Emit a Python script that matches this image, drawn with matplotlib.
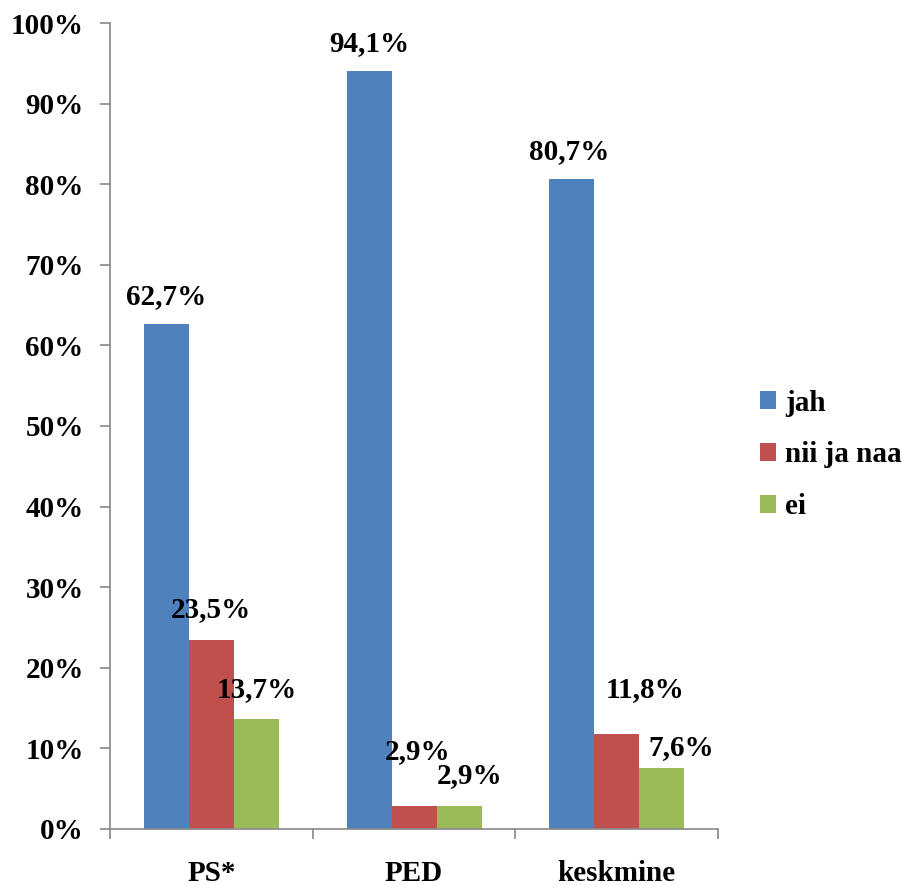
import numpy as np
import matplotlib
matplotlib.use("Agg")
import matplotlib.pyplot as plt

categories = ["PS*", "PED", "keskmine"]
series = ["jah", "nii ja naa", "ei"]
jah = [62.7, 94.1, 80.7]
nii_ja_naa = [23.5, 2.9, 11.8]
ei = [13.7, 2.9, 7.6]
labels = [["62,7%", "94,1%", "80,7%"],
          ["23,5%", "2,9%", "11,8%"],
          ["13,7%", "2,9%", "7,6%"]]

colors = ["#4F81BD", "#C0504D", "#9BBB59"]
# label nudges in pixels (dx, dy above bar top), per series and category
nudges = [[(0, 27), (0, 27), (-2, 27)],
          [(0, 30), (4, 54), (28, 44)],
          [(0, 29), (11, 30), (20, 20)]]

plt.rcParams["font.family"] = ["Liberation Serif", "DejaVu Serif"]
plt.rcParams["font.weight"] = "bold"

fig = plt.figure(figsize=(9.02, 8.85), dpi=100)
ax = fig.add_axes([0.122, 0.0633, 0.674, 0.9107])

x = np.arange(len(categories))
w = 0.222
for i, vals in enumerate([jah, nii_ja_naa, ei]):
    pos = x + (i - 1) * w
    ax.bar(pos, vals, width=w, color=colors[i], label=series[i])
    for j, v in enumerate(vals):
        dx, dy = nudges[i][j]
        ax.annotate(labels[i][j], (pos[j], v), xytext=(dx, dy),
                    textcoords="offset pixels", ha="center", va="center",
                    fontsize=21, fontweight="bold")

ax.set_xlim(-0.5, 2.5)
ax.set_ylim(0, 100)
ax.set_yticks(np.arange(0, 101, 10))
ax.set_yticklabels([f"{t}%" for t in range(0, 101, 10)])
ax.set_xticks(x)
ax.set_xticklabels(categories)
ax.set_xticks([-0.5, 0.5, 1.5, 2.5], minor=True)
ax.tick_params(axis="x", which="major", length=0, pad=22, labelsize=21)
ax.tick_params(axis="x", which="minor", length=7, width=1.2, color="#888888")
ax.tick_params(axis="y", length=7, width=1.2, color="#888888", labelsize=21, pad=12)
for s in ["top", "right"]:
    ax.spines[s].set_visible(False)
for s in ["left", "bottom"]:
    ax.spines[s].set_color("#888888")
    ax.spines[s].set_linewidth(1.2)

fig.legend(loc="center left", bbox_to_anchor=(0.843, 0.486), frameon=False,
           borderpad=0, borderaxespad=0, handlelength=0.55, handleheight=0.55,
           handletextpad=0.3, labelspacing=0.85,
           prop={"weight": "bold", "size": 21})

fig.savefig("out.png", dpi=100)
